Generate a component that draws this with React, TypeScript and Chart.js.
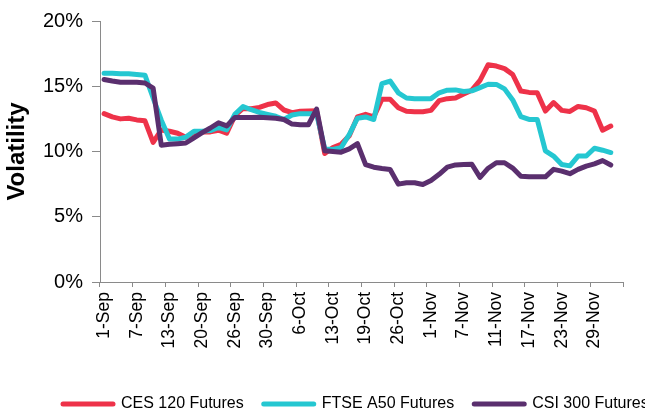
import { useEffect, useRef } from 'react';
import { Chart, registerables } from 'chart.js';

Chart.register(...registerables);

const tickLabels = [
  '1-Sep', '7-Sep', '13-Sep', '20-Sep', '26-Sep', '30-Sep', '6-Oct', '13-Oct',
  '19-Oct', '26-Oct', '1-Nov', '7-Nov', '11-Nov', '17-Nov', '23-Nov', '29-Nov',
];

// one labelled date every 4 trading days
const categories: string[] = [];
tickLabels.forEach((l) => categories.push(l, '', '', ''));

const ces120 = [
  12.9, 12.65, 12.5, 12.55, 12.42, 12.35, 10.7, 11.65, 11.55, 11.4, 11.1, 11.45, 11.5, 11.5, 11.63, 11.4,
  12.75, 13.3, 13.28, 13.38, 13.6, 13.72, 13.18, 12.98, 13.08, 13.1, 13.12, 9.85, 10.3, 10.55, 11.2, 12.65,
  12.85, 12.65, 14.0, 14.0, 13.35, 13.08, 13.05, 13.05, 13.15, 13.9, 14.05, 14.1, 14.4, 14.7, 15.45, 16.65,
  16.55, 16.35, 15.9, 14.63, 14.53, 14.5, 13.1, 13.75, 13.15, 13.07, 13.45, 13.35, 13.1, 11.63, 11.95,
];

const ftseA50 = [
  16.0, 16.0, 15.95, 15.95, 15.9, 15.85, 14.1, 12.4, 10.95, 10.95, 11.1, 11.55, 11.55, 11.6, 11.85, 11.65,
  12.85, 13.45, 13.2, 13.0, 12.85, 12.7, 12.45, 12.8, 12.9, 12.9, 12.9, 10.2, 10.15, 10.3, 11.3, 12.55,
  12.65, 12.45, 15.2, 15.4, 14.5, 14.1, 14.05, 14.05, 14.05, 14.5, 14.7, 14.72, 14.6, 14.65, 14.9, 15.15,
  15.14, 14.8, 13.95, 12.68, 12.46, 12.46, 10.05, 9.65, 9.0, 8.9, 9.65, 9.65, 10.25, 10.1, 9.92,
];

const csi300 = [
  15.52, 15.4, 15.3, 15.3, 15.3, 15.25, 14.85, 10.48, 10.55, 10.6, 10.65, 11.05, 11.45, 11.8, 12.2, 11.96,
  12.6, 12.6, 12.6, 12.62, 12.58, 12.55, 12.45, 12.1, 12.05, 12.05, 13.25, 10.05, 10.0, 9.95, 10.2, 10.6,
  9.0, 8.8, 8.7, 8.62, 7.5, 7.6, 7.6, 7.47, 7.78, 8.25, 8.8, 8.97, 9.0, 9.02, 8.02, 8.72,
  9.14, 9.14, 8.73, 8.1, 8.06, 8.06, 8.06, 8.63, 8.5, 8.3, 8.63, 8.88, 9.05, 9.3, 8.96,
];

const yTicks = [0, 5, 10, 15, 20];

const RED = '#EE3249';
const CYAN = '#25C7D1';
const PURPLE = '#5A2F6E';
const AXIS = '#8A8A8A';
const FONT = '"Liberation Sans", Arial, sans-serif';

const legendShift = {
  id: 'legendShift',
  afterLayout(chart: any) {
    const lg = chart.legend;
    if (!lg || !lg.lineWidths) return;
    const pad = lg.options.labels.padding;
    const start = (lg.left + pad + lg.right - lg.lineWidths[0]) / 2;
    const dx = 63 - start;
    lg.left += dx;
    lg.right += dx;
  },
};

export default function App() {
  const ref = useRef<HTMLCanvasElement>(null);

  useEffect(() => {
    if (!ref.current) return;
    Chart.defaults.font.family = FONT;
    const tickOn = (ctx: any) =>
      ctx.index === undefined || ctx.index % 4 === 0 ? AXIS : 'rgba(0,0,0,0)';
    const defaultLabels = (Chart.defaults as any).plugins.legend.labels.generateLabels;
    const chart = new Chart(ref.current, {
      type: 'line',
      data: {
        labels: categories,
        datasets: [
          { label: 'CES 120 Futures', data: ces120, borderColor: RED, backgroundColor: RED, borderWidth: 5, order: 3 },
          { label: 'FTSE A50 Futures', data: ftseA50, borderColor: CYAN, backgroundColor: CYAN, borderWidth: 5, order: 2 },
          { label: 'CSI 300 Futures', data: csi300, borderColor: PURPLE, backgroundColor: PURPLE, borderWidth: 5, order: 1 },
        ],
      },
      options: {
        animation: false,
        responsive: false,
        maintainAspectRatio: false,
        layout: { padding: { top: 20, right: 7, left: 0, bottom: 0 } },
        elements: {
          line: { borderWidth: 5, tension: 0, borderCapStyle: 'round', borderJoinStyle: 'round' },
          point: { radius: 0, hoverRadius: 0, hitRadius: 0 },
        },
        plugins: {
          tooltip: { enabled: false },
          legend: {
            position: 'bottom',
            labels: {
              usePointStyle: true,
              pointStyle: 'line',
              pointStyleWidth: 50,
              padding: 20,
              color: '#000',
              font: { size: 16, family: FONT },
              sort: (a: any, b: any) => a.datasetIndex - b.datasetIndex,
              generateLabels: (chart: any) =>
                defaultLabels(chart).map((item: any) => {
                  const ds = chart.data.datasets[item.datasetIndex];
                  return {
                    ...item,
                    lineWidth: 5,
                    lineCap: 'round',
                    strokeStyle: ds.borderColor,
                    fillStyle: ds.borderColor,
                  };
                }),
            },
          },
        },
        scales: {
          x: {
            type: 'category',
            offset: true,
            grid: {
              offset: true,
              drawOnChartArea: false,
              drawTicks: true,
              tickLength: 5,
              color: tickOn,
              tickColor: tickOn,
              lineWidth: 1,
            },
            border: { display: true, color: AXIS, width: 1 },
            ticks: {
              autoSkip: false,
              maxRotation: 90,
              minRotation: 90,
              padding: 5,
              color: '#000',
              font: { size: 17.5, family: FONT },
              callback: (_v: any, i: number) => categories[i],
            },
            afterFit: (s: any) => {
              s.height = 94;
            },
          },
          y: {
            min: 0,
            max: 20,
            afterBuildTicks: (s: any) => {
              s.ticks = yTicks.map((v) => ({ value: v }));
            },
            ticks: {
              callback: (v: any) => v + '%',
              padding: 9,
              color: '#000',
              font: { size: 20, family: FONT },
            },
            grid: { drawOnChartArea: false, tickLength: 8, color: AXIS, tickColor: AXIS },
            border: { display: true, color: AXIS, width: 1 },
            title: {
              display: true,
              text: 'Volatility',
              color: '#000',
              font: { size: 24, weight: 'bold', family: FONT },
              padding: { top: 3, bottom: 0 },
            },
            afterFit: (s: any) => {
              s.width = 100;
            },
          },
        },
      },
      plugins: [legendShift],
    } as any);
    return () => chart.destroy();
  }, []);

  return (
    <div style={{ position: 'fixed', left: 0, top: 0, width: 645, height: 422 }}>
      <canvas ref={ref} width={645} height={422} style={{ width: 645, height: 422, display: 'block' }} />
    </div>
  );
}
